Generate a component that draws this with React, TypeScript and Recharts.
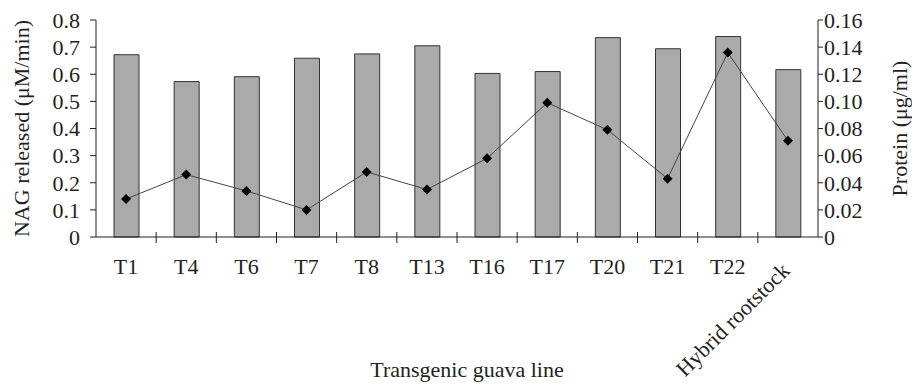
import { Bar, ComposedChart, Line, XAxis, YAxis } from "recharts";

const lines = ["T1", "T4", "T6", "T7", "T8", "T13", "T16", "T17", "T20", "T21", "T22", "Hybrid rootstock"];
const nagReleased = [0.672, 0.573, 0.591, 0.659, 0.675, 0.705, 0.603, 0.61, 0.735, 0.694, 0.739, 0.617];
const protein = [0.028, 0.046, 0.034, 0.02, 0.048, 0.035, 0.058, 0.099, 0.079, 0.043, 0.136, 0.071];
const nagTicks = [0, 0.1, 0.2, 0.3, 0.4, 0.5, 0.6, 0.7, 0.8];
const proteinTicks = [0, 0.02, 0.04, 0.06, 0.08, 0.1, 0.12, 0.14, 0.16];

const W = 912;
const H = 385;
const LEFT_W = 96;
const RIGHT_W = 94;
const BAND = (W - LEFT_W - RIGHT_W) / lines.length;

const font = "'Liberation Serif', 'Times New Roman', serif";
const ink = "#231f20";
const FS = 22;

const chartData = lines.map((name, i) => ({
  name,
  nag: nagReleased[i],
  protein: protein[i],
}));

function XTick(props: any) {
  const { x, y, payload, index } = props;
  const long = String(payload.value).length > 4;
  return (
    <g>
      {index > 0 && (
        <line x1={x - BAND / 2} x2={x - BAND / 2} y1={y - 5} y2={y + 6} stroke={ink} strokeWidth={1} />
      )}
      {long ? (
        <text
          x={x + 3}
          y={y + 35}
          transform={`rotate(-45 ${x + 3} ${y + 35})`}
          textAnchor="end"
          fontFamily={font}
          fontSize={FS}
          fill={ink}
        >
          {payload.value}
        </text>
      ) : (
        <text x={x} y={y + 37} textAnchor="middle" fontFamily={font} fontSize={FS} fill={ink}>
          {payload.value}
        </text>
      )}
    </g>
  );
}

function Diamond(props: any) {
  const { cx, cy } = props;
  if (cx == null || cy == null) return null;
  const r = 5;
  return <polygon points={`${cx},${cy - r} ${cx + r},${cy} ${cx},${cy + r} ${cx - r},${cy}`} fill="#000" />;
}

export default function App() {
  return (
    <div style={{ position: "absolute", left: 0, top: 0 }}>
      <ComposedChart width={W} height={H} data={chartData} margin={{ top: 20, right: 0, bottom: 0, left: 0 }}>
        <XAxis
          dataKey="name"
          height={148}
          interval={0}
          tickLine={false}
          tickSize={0}
          tickMargin={0}
          axisLine={{ stroke: ink }}
          tick={<XTick />}
          label={{
            value: "Transgenic guava line",
            position: "insideBottom",
            offset: 8,
            dx: 10,
            fontFamily: font,
            fontSize: FS,
            fill: ink,
          }}
        />
        <YAxis
          yAxisId="left"
          width={LEFT_W}
          domain={[0, 0.8]}
          ticks={nagTicks}
          interval={0}
          tickSize={6}
          tickMargin={10}
          axisLine={{ stroke: ink }}
          tickLine={{ stroke: ink }}
          tick={{ fontFamily: font, fontSize: FS, fill: ink }}
          tickFormatter={(v: number) => (v === 0 ? "0" : v.toFixed(1))}
          label={{
            content: (p: any) => {
              const vb = p.viewBox;
              const cx = vb.x + 21;
              const cy = vb.y + vb.height / 2;
              return (
                <text
                  x={cx}
                  y={cy}
                  transform={`rotate(-90 ${cx} ${cy})`}
                  textAnchor="middle"
                  dominantBaseline="central"
                  fontFamily={font}
                  fontSize={FS}
                  fill={ink}
                >
                  NAG released (μM/min)
                </text>
              );
            },
          }}
        />
        <YAxis
          yAxisId="right"
          orientation="right"
          width={RIGHT_W}
          domain={[0, 0.16]}
          ticks={proteinTicks}
          interval={0}
          tickSize={5}
          tickMargin={1}
          axisLine={{ stroke: ink }}
          tickLine={{ stroke: ink }}
          tick={{ fontFamily: font, fontSize: FS, fill: ink }}
          tickFormatter={(v: number) => (v === 0 ? "0" : v.toFixed(2))}
          label={{
            content: (p: any) => {
              const vb = p.viewBox;
              const cx = vb.x + 81;
              const cy = vb.y + vb.height / 2;
              return (
                <text
                  x={cx}
                  y={cy}
                  transform={`rotate(-90 ${cx} ${cy})`}
                  textAnchor="middle"
                  dominantBaseline="central"
                  fontFamily={font}
                  fontSize={FS}
                  fill={ink}
                >
                  Protein (μg/ml)
                </text>
              );
            },
          }}
        />
        <Bar
          yAxisId="left"
          dataKey="nag"
          barSize={25}
          fill="#aaaaaa"
          stroke="#333333"
          strokeWidth={1}
          isAnimationActive={false}
        />
        <Line
          yAxisId="right"
          dataKey="protein"
          stroke="#444444"
          strokeWidth={1}
          dot={<Diamond />}
          activeDot={false}
          isAnimationActive={false}
        />
      </ComposedChart>
    </div>
  );
}
